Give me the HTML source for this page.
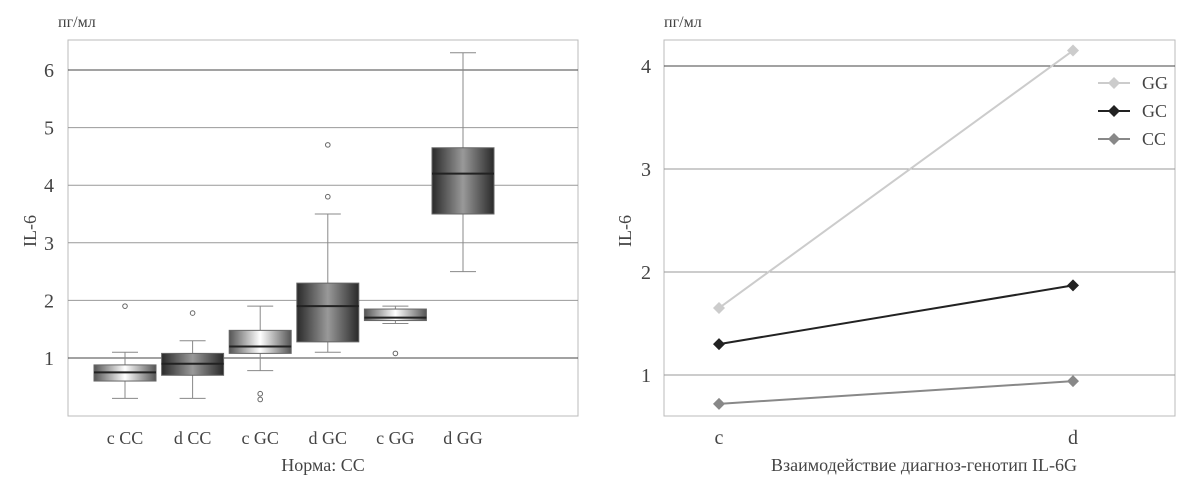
<!DOCTYPE html>
<html><head><meta charset="utf-8"><style>
body{margin:0;background:#fff}
svg{font-family:"Liberation Serif",serif;fill:#444}
</style></head><body>
<svg id="s" width="1200" height="482" xmlns="http://www.w3.org/2000/svg">
<defs>
<linearGradient id="gl" x1="0" x2="1"><stop offset="0" stop-color="#555"/><stop offset="0.5" stop-color="#fff"/><stop offset="1" stop-color="#555"/></linearGradient>
<linearGradient id="gd" x1="0" x2="1"><stop offset="0" stop-color="#2a2a2a"/><stop offset="0.5" stop-color="#999"/><stop offset="1" stop-color="#2a2a2a"/></linearGradient>
</defs>
<g id="left"></g>
<g id="right"></g>
</svg>
<script>
const boxCats=["c CC","d CC","c GC","d GC","c GG","d GG"];
const boxLow=[0.3,0.3,0.78,1.1,1.6,2.5];
const boxQ1=[0.6,0.7,1.08,1.28,1.65,3.5];
const boxMed=[0.75,0.9,1.2,1.9,1.7,4.2];
const boxQ3=[0.88,1.08,1.48,2.3,1.85,4.65];
const boxHigh=[1.1,1.3,1.9,3.5,1.9,6.3];
const boxOutliers=[[1.9],[1.78],[0.38,0.28],[3.8,4.7],[1.08],[]];
const boxTicks=[1,2,3,4,5,6];
const lineCats=["c","d"];
const seriesNames=["GG","GC","CC"];
const seriesGG=[1.65,4.15];
const seriesGC=[1.3,1.87];
const seriesCC=[0.72,0.94];
const lineTicks=[1,2,3,4];

const NS="http://www.w3.org/2000/svg";
function mk(p,t,a,txt){const e=document.createElementNS(NS,t);for(const k in a)e.setAttribute(k,a[k]);if(txt!==undefined)e.textContent=txt;p.appendChild(e);return e;}

// left
const L=document.getElementById('left');
const lx0=68,lx1=578,ly0=40,ly1=416;
const ly=v=>358-(v-1)*57.6;
const lxc=i=>125+i*67.6;
let r=mk(L,'rect',{x:lx0,y:ly0,width:lx1-lx0,height:ly1-ly0,fill:'none',stroke:'#bbb'});

boxTicks.forEach(t=>{
 let g=mk(L,'line',{x1:lx0,x2:lx1,y1:ly(t),y2:ly(t),stroke:(t===1||t===6)?'#444':'#999'});
 
 let tl=mk(L,'text',{x:54,y:ly(t)+7,'font-size':20,'text-anchor':'end'},t);
 
});
boxCats.forEach((c,i)=>{
 const x=lxc(i),w=62,dark=c[0]==='d';
 let wl=mk(L,'line',{x1:x,x2:x,y1:ly(boxHigh[i]),y2:ly(boxLow[i]),stroke:'#888'});
 
 [boxHigh[i],boxLow[i]].forEach(v=>{let c2=mk(L,'line',{x1:x-13,x2:x+13,y1:ly(v),y2:ly(v),stroke:'#888'});
  });
 let b=mk(L,'rect',{x:x-w/2,y:ly(boxQ3[i]),width:w,height:ly(boxQ1[i])-ly(boxQ3[i]),fill:dark?'url(#gd)':'url(#gl)',stroke:'#666'});
 
 let m=mk(L,'line',{x1:x-w/2,x2:x+w/2,y1:ly(boxMed[i]),y2:ly(boxMed[i]),stroke:'#222','stroke-width':2});
 
 boxOutliers[i].forEach(v=>{let o=mk(L,'circle',{cx:x,cy:ly(v),r:2.3,fill:'#fff',stroke:'#666'});
  });
 let tl=mk(L,'text',{x:x,y:444,'font-size':18,'text-anchor':'middle'},c);
 
});
let t1=mk(L,'text',{x:323,y:471,'font-size':18,'text-anchor':'middle'},'Норма: СС');

let t2=mk(L,'text',{x:36,y:231,'font-size':18,'text-anchor':'middle',transform:'rotate(-90 36 231)'},'IL-6');

let t3=mk(L,'text',{x:58,y:27,'font-size':16},'пг/мл');


// right
const R=document.getElementById('right');
const rx0=664,rx1=1175;
const ry=v=>375-(v-1)*103;
const rx=i=>719+i*354;
r=mk(R,'rect',{x:rx0,y:ly0,width:rx1-rx0,height:ly1-ly0,fill:'none',stroke:'#bbb'});

lineTicks.forEach(t=>{
 let g=mk(R,'line',{x1:rx0,x2:rx1,y1:ry(t),y2:ry(t),stroke:t===4?'#444':'#999'});
 
 let tl=mk(R,'text',{x:651,y:ry(t)+7,'font-size':20,'text-anchor':'end'},t);
 
});
lineCats.forEach((c,i)=>{let tl=mk(R,'text',{x:rx(i),y:444,'font-size':20,'text-anchor':'middle'},c);
 });
const seriesData=[seriesGG,seriesGC,seriesCC];
const colors=['#ccc','#222','#888'];
function diamond(p,x,y,col){let d=mk(p,'polygon',{points:`${x},${y-6} ${x+6},${y} ${x},${y+6} ${x-6},${y}`,fill:col});return d;}
seriesData.forEach((s,k)=>{
 let pl=mk(R,'polyline',{points:s.map((v,i)=>rx(i)+','+ry(v)).join(' '),fill:'none',stroke:colors[k],'stroke-width':2});
 
 s.forEach((v,i)=>{let d=diamond(R,rx(i),ry(v),colors[k]);
  });
 const yy=83+k*28;
 let ll=mk(R,'line',{x1:1098,x2:1130,y1:yy,y2:yy,stroke:colors[k],'stroke-width':2});
 
 let ld=diamond(R,1114,yy,colors[k]);
 
 let lt=mk(R,'text',{x:1142,y:yy+6,'font-size':18},seriesNames[k]);
 
});
t1=mk(R,'text',{x:924,y:471,'font-size':18,'text-anchor':'middle'},'Взаимодействие диагноз-генотип IL-6G');

t2=mk(R,'text',{x:631,y:231,'font-size':18,'text-anchor':'middle',transform:'rotate(-90 631 231)'},'IL-6');

t3=mk(R,'text',{x:664,y:27,'font-size':16},'пг/мл');

</script>
</body></html>
